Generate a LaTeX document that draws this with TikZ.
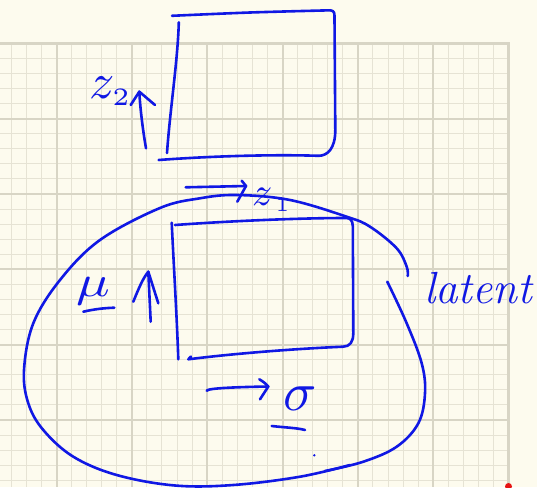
\documentclass[tikz,border=0pt]{standalone}
\usepackage{fontspec}
\usepackage{graphicx}
\definecolor{paper}{RGB}{253,251,238}
\definecolor{gridminor}{RGB}{230,227,212}
\definecolor{gridmajor}{RGB}{216,213,197}
\definecolor{ink}{RGB}{16,24,228}
\definecolor{redmark}{RGB}{230,20,20}
\begin{document}
\begin{tikzpicture}[x=1pt,y=-1pt,
  pen/.style={draw=ink, line width=2.6pt, line cap=round, line join=round},
  lbl/.style={text=ink, inner sep=0pt, outer sep=0pt}]
\useasboundingbox (0,0) rectangle (537,487);
\fill[paper] (0,0) rectangle (537,487);
% grid
\begin{scope}
\clip (0,43.3) rectangle (508.6,487);
\foreach \k in {-3,...,30} {\draw[gridminor, line width=1pt] ({56.5+15.07*\k},0) -- ({56.5+15.07*\k},487);}
\foreach \k in {0,...,30} {\draw[gridminor, line width=1pt] (0,{43.3+15.07*\k}) -- (509,{43.3+15.07*\k});}
\foreach \m in {0,...,6} {\draw[gridmajor, line width=2pt] ({56.5+75.35*\m},0) -- ({56.5+75.35*\m},487);}
\foreach \m in {0,...,6} {\draw[gridmajor, line width=2pt] (0,{43.3+75.35*\m}) -- (509,{43.3+75.35*\m});}
\end{scope}
\draw[gridmajor, line width=2.5pt] (0,43.3) -- (508.6,43.3) -- (508.6,487);
\fill[redmark] (508.5,486.5) circle (3.5);

% upper box
\draw[pen] (178.8,22.3) .. controls (177.8,60) and (170,110) .. (167,153);
\draw[pen] plot[smooth, tension=0.5] coordinates {(172,15.8) (250,12.5) (330.5,10.3)}
  .. controls (334.5,11) and (334.5,13) .. (334.5,18)
  -- (335.3,130) .. controls (335.3,148) and (328,155.8) .. (318.5,155.8)
  .. controls (280,154.5) and (220,155.5) .. (158.6,160);

% z2 arrow
\coordinate (z2t) at (146,148.3);
\coordinate (z2h) at (139.3,91.7);
\coordinate (z2l) at (130.7,105);
\coordinate (z2r) at (155,105);
\draw[pen] (z2t) .. controls (142,125) and (140,105) .. (z2h);
\draw[pen] (z2l) -- (z2h) -- (z2r);
\node[lbl, anchor=base west] (z2) at (89,98) {\scalebox{5}{$z_{\scriptscriptstyle 2}$}};

% z1 arrow
\coordinate (z1t) at (185.7,187.3);
\coordinate (z1h) at (246,186);
\coordinate (z1u) at (241.7,180.7);
\coordinate (z1d) at (237.3,201.7);
\draw[pen] (z1t) -- (z1h);
\draw[pen] (z1u) -- (z1h) -- (z1d);
\node[lbl, anchor=base west] (z1) at (252,205) {\scalebox{4}{$z_{\scriptscriptstyle\,1}$}};

% big latent blob
\draw[pen] plot[smooth, tension=0.6] coordinates {(407.7,276) (406.7,266.7) (396.7,248.3) (370,226.7) (346.7,216.7) (290,200) (236.7,195) (200,198.3) (160,208) (100,240) (60,280) (33.3,323.3) (24,370) (28.3,403.3) (43.3,430) (73.3,456.7) (116.7,475) (175,485.5) (233.3,485) (300,476.7) (350,465)};
\draw[pen] plot[smooth, tension=0.6] coordinates {(387.3,281.7) (406.7,323.3) (421.7,363.3) (425,393.3) (418.3,423.3) (396.7,446.7) (363.3,461.7) (325,471)};

% lower box
\draw[pen] (171.7,222.7) .. controls (174,270) and (177,320) .. (178.3,359.3);
\draw[pen] (175,225) .. controls (230,221) and (300,218) .. (346,218)
  .. controls (350,218) and (352.5,220) .. (352.8,226)
  -- (353.3,333) .. controls (353.3,342) and (350,346.5) .. (343,346.7)
  .. controls (290,349) and (230,354) .. (188.3,359.3) -- (191,356.5);

% mu
\coordinate (mut) at (150.7,321.7);
\coordinate (muh) at (148.3,271.7);
\coordinate (mul) at (133.3,301.7);
\coordinate (mur) at (158.3,303.3);
\draw[pen] (mut) -- (muh);
\draw[pen] (mul) .. controls (138,290) and (143,278) .. (muh) -- (mur);
\node[lbl, anchor=base] (mu) at (93,296) {\scalebox{5.6}[4.4]{$\mu$}};
\draw[pen] (83.3,311.7) .. controls (95,309) and (105,308) .. (114.3,307.7);

% sigma
\coordinate (sgt) at (206.7,390.7);
\coordinate (sgh) at (268.3,386.5);
\coordinate (sgu) at (259.3,379.3);
\coordinate (sgd) at (260,399.3);
\draw[pen] (sgt) .. controls (208,388) and (240,387) .. (sgh);
\draw[pen] (sgu) .. controls (264,382) and (266,384) .. (sgh) -- (sgd);
\node[lbl, anchor=base] (sigma) at (300,410) {\scalebox{5.5}{$\sigma$}};
\draw[pen] (271.7,426) .. controls (285,427.5) and (298,428) .. (305,430);
\fill[ink] (314.3,455.3) circle (1.3);

% latent
\node[lbl, anchor=base west, font=\fontsize{45}{45}\selectfont\itshape] (latent) at (424,303) {latent};
\end{tikzpicture}
\end{document}
